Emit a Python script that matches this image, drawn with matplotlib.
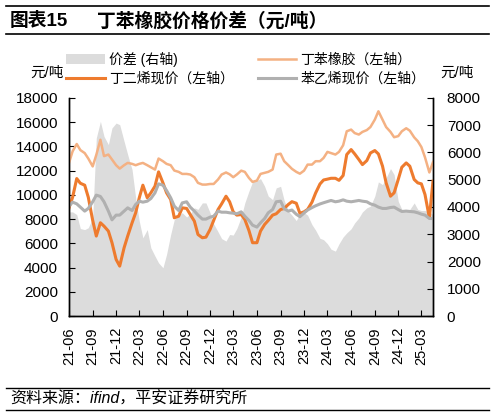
import matplotlib
matplotlib.use("Agg")
import matplotlib.pyplot as plt
import matplotlib.dates as mdates
import pandas as pd
from matplotlib.lines import Line2D

plt.rcParams["font.family"] = ["Liberation Sans", "Noto Sans CJK SC"]

# semi-monthly points, 2021-06 .. 2025-04
dates = pd.date_range("2021-06-01", periods=94, freq="SMS")

# 丁苯橡胶 (left axis)
sbr = [
    12640, 13600, 14200, 13700, 13450, 13000, 12350, 13300, 14550, 13200,
    13330, 12920, 12450, 12170, 12450, 12640, 12560, 12450, 12560, 12640,
    12450, 12280, 12090, 13000, 12780, 12560, 12450, 12010, 11900, 11730,
    11730, 11680, 11460, 10990, 10850, 10850, 10900, 10900, 11270, 11680,
    11850, 11700, 11460, 11680, 12000, 11900, 11400, 11070, 11180, 11730,
    11820, 11900, 12090, 13330, 13400, 12780, 12450, 12150, 11900, 11750,
    12000, 12500, 12500, 12780, 12780, 13050, 13550, 13450, 13330, 13550,
    14100, 15250, 15390, 15100, 14980, 15200, 15350, 15600, 16210, 16900,
    16210, 15600, 15200, 14760, 14850, 15250, 15500, 15300, 14750, 14430,
    13950, 13100, 11850, 12700,
]

# 丁二烯现价 (left axis)
butadiene = [
    8930, 9800, 11350, 10960, 10800, 9800, 7900, 6600, 7700, 7420,
    7010, 6050, 4670, 4120, 5630, 6600, 7690, 8520, 9760, 10800,
    9760, 10170, 10720, 11900, 10990, 10170, 9620, 8110, 8240, 8930,
    8880, 8380, 7830, 6730, 6460, 6510, 7140, 7890, 8790, 9260,
    9890, 9430, 8600, 8330, 8380, 7970, 7060, 6050, 6050, 7010,
    7560, 7890, 8330, 8440, 8790, 8880, 9210, 9440, 9310, 8480,
    8600, 8800, 9400, 10150, 10900, 11230, 11300, 11370, 11370, 11200,
    11600, 13330, 13740, 13380, 12920, 12500, 12830, 13460, 13660, 13380,
    12370, 10990, 9890, 10170, 11270, 12280, 12640, 12370, 11270, 10990,
    10910, 10030, 8110, 11130,
]

# 苯乙烯现价 (left axis)
styrene = [
    9070, 9400, 9260, 8990, 8660, 8880, 9430, 9980, 9870, 9430,
    8660, 7940, 8330, 8330, 8660, 8930, 8710, 9210, 9480, 9400,
    9480, 9700, 10170, 10910, 10800, 10360, 9760, 9070, 8710, 9340,
    9430, 8990, 8660, 8330, 8000, 8000, 8160, 8240, 8660, 8570,
    8570, 8520, 8490, 8440, 8600, 8240, 7890, 7500, 7340, 7690,
    8050, 8520, 8790, 9430, 9480, 8850, 8660, 8750, 8400, 8200,
    8500, 8750, 8950, 9100, 9250, 9350, 9450, 9540, 9430, 9480,
    9590, 9480, 9430, 9480, 9540, 9480, 9430, 9260, 9150, 8990,
    8880, 8880, 8960, 8990, 8790, 8630, 8660, 8630, 8600, 8520,
    8410, 8330, 8050, 8050,
]

# 价差 (right axis)
spread = [
    3820, 3820, 3720, 3210, 3170, 3240, 3600, 6530, 7140, 6590,
    6290, 6900, 7080, 7020, 6410, 5920, 5370, 4330, 3480, 2870,
    3170, 2500, 2200, 1950, 1770, 2260, 2990, 3540, 3700, 3790,
    3630, 3750, 3970, 3910, 4150, 4150, 3790, 3380, 3090, 2840,
    2750, 2990, 2970, 3210, 3630, 4150, 4580, 4920, 4970, 5040,
    4760, 4400, 4270, 4700, 4760, 4240, 3850, 3700, 3500, 3750,
    3800, 3700, 3350, 3150, 2850, 2800, 2650, 2450, 2380, 2650,
    2900, 3050, 3200, 3420, 3600, 3820, 3970, 4030, 4400, 4920,
    4820, 5070, 5410, 5190, 4210, 3910, 3850, 3910, 4150, 3910,
    3870, 3870, 3820, 3720,
]

fig = plt.figure(figsize=(4.95, 4.18), dpi=100)
ax = fig.add_axes([0.1394, 0.244, 0.7353, 0.5216])
ax2 = ax.twinx()

fill = ax2.fill_between(dates, spread, color="#DCDCDC", lw=0)
l_bd, = ax.plot(dates, butadiene, color="#EE7B2E", lw=2.2)
l_sbr, = ax.plot(dates, sbr, color="#F4B183", lw=1.8)
l_st, = ax.plot(dates, styrene, color="#B0B0B0", lw=2.2)

ax.set_zorder(ax2.get_zorder() + 1)
ax.patch.set_visible(False)

ax.set_xlim(dates[0], dates[-1])
ax.set_ylim(0, 18000)
ax.set_yticks(range(0, 18001, 2000))
ax2.set_ylim(0, 8000)
ax2.set_yticks(range(0, 8001, 1000))

ax.xaxis.set_major_locator(mdates.MonthLocator(bymonth=[3, 6, 9, 12]))
ax.xaxis.set_major_formatter(mdates.DateFormatter("%y-%m"))

for a in (ax, ax2):
    a.spines["top"].set_visible(False)
    for s in a.spines.values():
        s.set_linewidth(1.0)
ax.tick_params(axis="y", direction="in", length=4, labelsize=11, pad=8)
ax.tick_params(axis="x", direction="in", length=4, labelsize=10.5,
               labelrotation=90, pad=8)
ax2.tick_params(axis="y", direction="in", length=4, labelsize=11, pad=10)

fig.text(47 / 495, 1 - 73 / 418, "元/吨", fontsize=10.5, ha="center", va="center")
fig.text(457 / 495, 1 - 73 / 418, "元/吨", fontsize=10.5, ha="center", va="center")

fig.legend([fill, l_bd, l_sbr, l_st],
           ["价差 (右轴)", "丁二烯现价（左轴）", "丁苯橡胶（左轴）", "苯乙烯现价（左轴）"],
           loc="upper left", bbox_to_anchor=(66 / 495, 1 - 52 / 418), ncol=2,
           frameon=False, fontsize=10, handlelength=2.8, handletextpad=0.3,
           columnspacing=1.7, labelspacing=0.35, borderpad=0, borderaxespad=0)

# title and rules
fig.text(10 / 495, 1 - 21 / 418, "图表15", fontsize=13.5, fontweight="bold",
         ha="left", va="center")
fig.text(97 / 495, 1 - 21 / 418, "丁苯橡胶价格价差（元/吨）", fontsize=13.5,
         fontweight="bold", ha="left", va="center")
fig.text(10 / 495, 1 - 399 / 418, "资料来源：ifind，平安证券研究所", fontsize=11.5,
         style="italic", ha="left", va="center")
for yy, lw in [(6, 1.2), (34.3, 1.2), (388.3, 1.0), (410, 1.0)]:
    fig.add_artist(Line2D([6 / 495, 489 / 495], [1 - yy / 418, 1 - yy / 418],
                          transform=fig.transFigure, color="black", lw=lw))

fig.savefig("out.png", dpi=100)
